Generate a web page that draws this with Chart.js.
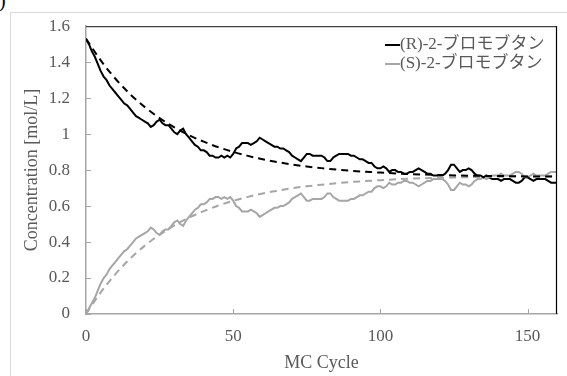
<!DOCTYPE html>
<html>
<head>
<meta charset="utf-8">
<script src="https://cdn.jsdelivr.net/npm/chart.js@4/dist/chart.umd.min.js"></script>
<style>
  html, body { margin: 0; padding: 0; background: #fff; overflow: hidden; }
  #wrap { position: relative; width: 567px; height: 376px; }
  #frame { position: absolute; left: 10px; top: 12px; width: 600px; height: 400px; border: 1px solid #d9d9d9; }
  #tag { position: absolute; left: -1px; top: -11px; font: 20px "Liberation Serif", serif; color: #000; }
  canvas { position: absolute; left: 0; top: 0; }
</style>
</head>
<body>
<div id="wrap">
  <div id="frame"></div>
  <div id="tag">)</div>
  <canvas id="myChart" width="567" height="376"></canvas>
</div>
<script>
  // MC cycle 0..160
  var cycles = Array.from({ length: 161 }, function (_, i) { return i; });

  // (R)-2-ブロモブタン
  var rConc = [
    1.53, 1.50, 1.46, 1.43, 1.39, 1.35, 1.32, 1.30, 1.27, 1.25,
    1.23, 1.21, 1.19, 1.17, 1.16, 1.14, 1.12, 1.10, 1.09, 1.08,
    1.07, 1.06, 1.04, 1.05, 1.07, 1.08, 1.06, 1.05, 1.05, 1.03,
    1.01, 1.00, 1.02, 1.03, 1.00, 0.98, 0.96, 0.94, 0.93, 0.91,
    0.91, 0.90, 0.88, 0.88, 0.87, 0.87, 0.88, 0.87, 0.88, 0.87,
    0.89, 0.92, 0.93, 0.95, 0.95, 0.95, 0.94, 0.95, 0.96, 0.98,
    0.97, 0.96, 0.95, 0.94, 0.93, 0.93, 0.92, 0.92, 0.91, 0.90,
    0.88, 0.87, 0.86, 0.85, 0.87, 0.89, 0.89, 0.88, 0.88, 0.88,
    0.88, 0.87, 0.85, 0.85, 0.87, 0.88, 0.89, 0.89, 0.89, 0.89,
    0.88, 0.88, 0.87, 0.86, 0.86, 0.85, 0.84, 0.84, 0.82, 0.81,
    0.81, 0.82, 0.81, 0.79, 0.80, 0.80, 0.79, 0.79, 0.78, 0.78,
    0.79, 0.79, 0.80, 0.81, 0.80, 0.79, 0.78, 0.78, 0.77, 0.77,
    0.77, 0.77, 0.78, 0.80, 0.83, 0.83, 0.81, 0.79, 0.80, 0.80,
    0.81, 0.80, 0.78, 0.77, 0.77, 0.76, 0.77, 0.76, 0.75, 0.75,
    0.75, 0.74, 0.75, 0.75, 0.75, 0.74, 0.73, 0.73, 0.74, 0.76,
    0.76, 0.75, 0.74, 0.75, 0.75, 0.75, 0.75, 0.74, 0.73, 0.73,
    0.73
  ];

  // (S)-2-ブロモブタン
  var sConc = [
    0.00, 0.03, 0.06, 0.09, 0.13, 0.17, 0.20, 0.22, 0.25, 0.27,
    0.29, 0.31, 0.33, 0.35, 0.36, 0.38, 0.40, 0.42, 0.43, 0.44,
    0.45, 0.46, 0.48, 0.47, 0.45, 0.44, 0.46, 0.47, 0.47, 0.49,
    0.51, 0.52, 0.50, 0.49, 0.52, 0.54, 0.56, 0.58, 0.59, 0.61,
    0.61, 0.62, 0.64, 0.64, 0.65, 0.65, 0.64, 0.65, 0.64, 0.65,
    0.63, 0.60, 0.59, 0.57, 0.57, 0.57, 0.58, 0.57, 0.56, 0.54,
    0.55, 0.56, 0.57, 0.58, 0.59, 0.59, 0.60, 0.60, 0.61, 0.62,
    0.64, 0.65, 0.66, 0.67, 0.65, 0.63, 0.63, 0.64, 0.64, 0.64,
    0.64, 0.65, 0.67, 0.67, 0.65, 0.64, 0.63, 0.63, 0.63, 0.63,
    0.64, 0.64, 0.65, 0.66, 0.66, 0.67, 0.68, 0.68, 0.70, 0.71,
    0.71, 0.70, 0.71, 0.73, 0.72, 0.72, 0.73, 0.73, 0.74, 0.74,
    0.73, 0.73, 0.72, 0.71, 0.72, 0.73, 0.74, 0.74, 0.75, 0.75,
    0.75, 0.75, 0.74, 0.72, 0.69, 0.69, 0.71, 0.73, 0.72, 0.72,
    0.71, 0.72, 0.74, 0.75, 0.75, 0.76, 0.75, 0.76, 0.77, 0.77,
    0.77, 0.78, 0.77, 0.77, 0.77, 0.78, 0.79, 0.79, 0.78, 0.76,
    0.76, 0.77, 0.78, 0.77, 0.77, 0.77, 0.77, 0.78, 0.79, 0.79,
    0.79
  ];

  // fitted curves (dashed)
  var fitCycles = [0, 5, 10, 15, 20, 25, 30, 35, 40, 45, 50, 55, 60, 65, 70, 75, 80, 85, 90, 95, 100, 110, 120, 130, 140, 150, 160];
  var rFit = [1.530, 1.410, 1.308, 1.222, 1.150, 1.089, 1.038, 0.994, 0.958, 0.927, 0.901, 0.879, 0.860, 0.845, 0.831, 0.820, 0.811, 0.803, 0.796, 0.791, 0.786, 0.778, 0.773, 0.769, 0.767, 0.765, 0.764];
  var sFit = [0.000, 0.120, 0.222, 0.308, 0.380, 0.441, 0.492, 0.536, 0.572, 0.603, 0.629, 0.651, 0.670, 0.685, 0.699, 0.710, 0.719, 0.727, 0.734, 0.739, 0.744, 0.752, 0.757, 0.761, 0.763, 0.765, 0.766];

  var yTicks = [0, 0.2, 0.4, 0.6, 0.8, 1, 1.2, 1.4, 1.6];

  var seriesLabels = ["(R)-2-ブロモブタン", "(S)-2-ブロモブタン"];
  var yTitle = "Concentration [mol/L]";

  var BLACK = "#000000";
  var GRAY = "#a6a6a6";
  var TEXT = "#595959";
  var SERIF = '"Liberation Serif", "Noto Sans CJK JP", serif';

  function pts(xs, ys) {
    return xs.map(function (x, i) { return { x: x, y: ys[i] }; });
  }

  // inward tick marks, top/right frame, y title and the legend inside the plot
  var framePlugin = {
    id: "frame",
    afterDraw: function (chart) {
      var c = chart.ctx, a = chart.chartArea;
      var xs = chart.scales.x, ys = chart.scales.y;
      c.save();
      c.strokeStyle = GRAY;
      c.lineWidth = 1;
      ys.ticks.forEach(function (t) {
        var y = Math.round(ys.getPixelForValue(t.value)) + 0.5;
        c.beginPath(); c.moveTo(a.left, y); c.lineTo(a.left + 5, y); c.stroke();
      });
      xs.ticks.forEach(function (t) {
        var x = Math.round(xs.getPixelForValue(t.value)) + 0.5;
        c.beginPath(); c.moveTo(x, a.bottom); c.lineTo(x, a.bottom - 5); c.stroke();
      });
      c.strokeStyle = "#404040";
      c.lineWidth = 1.2;
      c.beginPath();
      c.moveTo(a.left, a.top + 0.5); c.lineTo(a.right, a.top + 0.5);
      c.stroke();
      c.strokeStyle = BLACK;
      c.beginPath();
      c.moveTo(a.right - 0.5, a.top); c.lineTo(a.right - 0.5, a.bottom);
      c.stroke();

      // y title
      c.save();
      c.translate(32, (a.top + a.bottom) / 2);
      c.rotate(-Math.PI / 2);
      c.font = "18px " + SERIF;
      c.fillStyle = TEXT;
      c.textAlign = "center";
      c.textBaseline = "middle";
      c.fillText(yTitle, 0, 0);
      c.restore();

      // legend
      c.font = "17px " + SERIF;
      c.textBaseline = "middle";
      c.textAlign = "left";
      var lx = 385, ly = 45;
      [BLACK, GRAY].forEach(function (col, i) {
        var y = ly + i * 19;
        c.strokeStyle = col;
        c.lineWidth = 2;
        c.beginPath(); c.moveTo(lx, y); c.lineTo(lx + 15, y); c.stroke();
        c.fillStyle = TEXT;
        c.fillText(seriesLabels[i], lx + 15, y);
      });
      c.restore();
    }
  };

  var ctx = document.getElementById("myChart");
  var config = {
    type: "line",
    data: {
      datasets: [
        {
          label: seriesLabels[0],
          data: pts(cycles, rConc),
          borderColor: BLACK,
          borderWidth: 2,
          pointRadius: 0,
          tension: 0,
          order: 1
        },
        {
          label: seriesLabels[1],
          data: pts(cycles, sConc),
          borderColor: GRAY,
          borderWidth: 2,
          pointRadius: 0,
          tension: 0,
          order: 2
        },
        {
          label: "R fit",
          data: pts(fitCycles, rFit),
          borderColor: BLACK,
          borderWidth: 2,
          borderDash: [7, 5],
          pointRadius: 0,
          cubicInterpolationMode: "monotone",
          order: 0
        },
        {
          label: "S fit",
          data: pts(fitCycles, sFit),
          borderColor: GRAY,
          borderWidth: 2,
          borderDash: [7, 5],
          pointRadius: 0,
          cubicInterpolationMode: "monotone",
          order: 0
        }
      ]
    },
    options: {
      responsive: false,
      animation: false,
      layout: {
        padding: { left: 0, top: 26, right: 10, bottom: 0 }
      },
      plugins: {
        legend: { display: false },
        tooltip: { enabled: false }
      },
      scales: {
        x: {
          type: "linear",
          min: 0,
          max: 160,
          grid: { display: false, drawTicks: false },
          border: { display: true, color: GRAY, width: 1.5 },
          ticks: {
            stepSize: 50,
            includeBounds: false,
            padding: 12,
            color: TEXT,
            font: { family: SERIF, size: 17 }
          },
          title: {
            display: true,
            text: "MC Cycle",
            color: TEXT,
            font: { family: SERIF, size: 18 },
            padding: { top: 6, bottom: 2 }
          },
          afterFit: function (s) { s.height = 62; }
        },
        y: {
          min: 0,
          max: 1.6,
          grid: { display: false, drawTicks: false },
          border: { display: true, color: GRAY, width: 1.5 },
          afterBuildTicks: function (s) {
            s.ticks = yTicks.map(function (v) { return { value: v }; });
          },
          ticks: {
            padding: 16,
            color: TEXT,
            font: { family: SERIF, size: 17 },
            callback: function (v) { return String(Math.round(v * 10) / 10); }
          },
          afterFit: function (s) { s.width = 86; }
        }
      }
    },
    plugins: [framePlugin]
  };

  var myChart = new Chart(ctx, config);
</script>
</body>
</html>
